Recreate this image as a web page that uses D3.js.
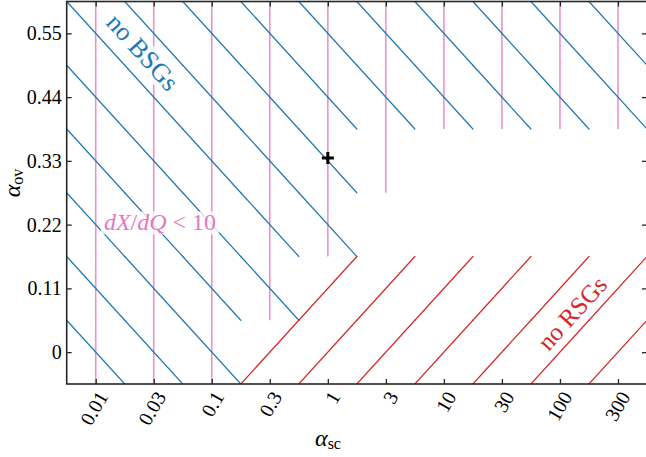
<!DOCTYPE html>
<html><head><meta charset="utf-8">
<script src="https://cdn.jsdelivr.net/npm/d3@7"></script>
<style>
body{margin:0;background:#fff;}
</style></head>
<body><svg id="c" width="646" height="457" font-family="'Liberation Serif', 'Times New Roman', Times, serif"></svg>
<script>
// alpha_sc grid (half-decade steps) and their tick labels
const alphaSc = [0.01, 0.03162, 0.1, 0.3162, 1, 3.162, 10, 31.62, 100, 316.2];
const scLabels = ["0.01","0.03","0.1","0.3","1","3","10","30","100","300"];
// alpha_ov grid and tick labels
const alphaOv = [0, 0.11, 0.22, 0.33, 0.44, 0.55];
const ovLabels = ["0","0.11","0.22","0.33","0.44","0.55"];
// region flags, one row per alpha_ov value, one entry per alpha_sc value
const noBSG = [
  [1,1,1,0,0,0,0,0,0,0],
  [1,1,1,1,0,0,0,0,0,0],
  [1,1,1,1,1,0,0,0,0,0],
  [1,1,1,1,1,0,0,0,0,0],
  [1,1,1,1,1,1,1,1,1,1],
  [1,1,1,1,1,1,1,1,1,1]
];
const noRSG = [
  [0,0,0,1,1,1,1,1,1,1],
  [0,0,0,0,1,1,1,1,1,1],
  [0,0,0,0,0,0,0,0,0,0],
  [0,0,0,0,0,0,0,0,0,0],
  [0,0,0,0,0,0,0,0,0,0],
  [0,0,0,0,0,0,0,0,0,0]
];
const dXdQlow = [
  [1,1,1,0,0,0,0,0,0,0],
  [1,1,1,1,0,0,0,0,0,0],
  [1,1,1,1,1,0,0,0,0,0],
  [1,1,1,1,1,1,0,0,0,0],
  [1,1,1,1,1,1,1,1,1,1],
  [1,1,1,1,1,1,1,1,1,1]
];
// fiducial model marker
const markSc = [1];
const markOv = [0.335];

const L = 66.7, R = 647, T = 1.5, B = 384;
const halfDec = 0.25, halfOv = 0.055;
const x = d3.scaleLog().domain([0.01*Math.pow(10,-halfDec), 316.2*Math.pow(10,halfDec)]).range([L, R]);
const y = d3.scaleLinear().domain([-halfOv, 0.55+halfOv]).range([B, T]);

const svg = d3.select("#c");
svg.append("defs").append("clipPath").attr("id","clip")
  .append("rect").attr("x",L).attr("y",T).attr("width",R-L).attr("height",B-T);
const g = svg.append("g").attr("clip-path","url(#clip)");

function cells(flags){
  const out=[];
  flags.forEach((row,j)=>row.forEach((f,i)=>{ if(f) out.push({i,j}); }));
  return out;
}
const xl = d=>x(alphaSc[d.i]*Math.pow(10,-halfDec));
const xr = d=>x(alphaSc[d.i]*Math.pow(10,halfDec));
const yb = d=>y(alphaOv[d.j]-halfOv);
const yt = d=>y(alphaOv[d.j]+halfOv);

// pink verticals
g.selectAll("line.pk").data(cells(dXdQlow)).join("line").attr("class","pk")
  .attr("x1",d=>x(alphaSc[d.i])).attr("x2",d=>x(alphaSc[d.i]))
  .attr("y1",yb).attr("y2",yt)
  .attr("stroke","#e377c2").attr("stroke-opacity",0.8).attr("stroke-width",1.6);
// blue diagonals
g.selectAll("line.bl").data(cells(noBSG)).join("line").attr("class","bl")
  .attr("x1",xl).attr("y1",yt).attr("x2",xr).attr("y2",yb)
  .attr("stroke","#1f77b4").attr("stroke-width",1.2).attr("stroke-linecap","round");
// red diagonals
g.selectAll("line.rd").data(cells(noRSG)).join("line").attr("class","rd")
  .attr("x1",xl).attr("y1",yb).attr("x2",xr).attr("y2",yt)
  .attr("stroke","#d62728").attr("stroke-width",1.2).attr("stroke-linecap","round");

// labels with boxes
function boxedText(parent, tx, ty, rot, size, build, color, boxOpacity){
  const gg = parent.append("g").attr("transform",`translate(${tx},${ty}) rotate(${rot})`);
  const rect = gg.append("rect");
  const t = gg.append("text").attr("text-anchor","middle").attr("dy","0.35em")
    .attr("font-size",size).attr("fill",color);
  build(t);
  const bb = t.node().getBBox();
  rect.attr("x",bb.x-3).attr("y",bb.y+2).attr("width",bb.width+6).attr("height",bb.height-3)
    .attr("fill","#fff").attr("fill-opacity",boxOpacity);
  return gg;
}
boxedText(svg, 143, 52, 47.8, 26, t=>t.text("no BSGs"), "#1f77b4", 0.8);
boxedText(svg, 572, 313, -47.8, 25, t=>t.text("no RSGs"), "#d62728", 0.0);
boxedText(svg, 160, 222, 0, 24, t=>{
  t.append("tspan").attr("font-style","italic").text("dX");
  t.append("tspan").text("/");
  t.append("tspan").attr("font-style","italic").text("dQ");
  t.append("tspan").text(" < 10");
}, "#e377c2", 0.8);

// marker
const mk = svg.append("g");
markSc.forEach((s,k)=>{
  const cx=x(s), cy=y(markOv[k]);
  mk.append("line").attr("x1",cx-6).attr("x2",cx+6).attr("y1",cy).attr("y2",cy);
  mk.append("line").attr("x1",cx).attr("x2",cx).attr("y1",cy-6).attr("y2",cy+6);
});
mk.selectAll("line").attr("stroke","#000").attr("stroke-width",3);

// ticks (inward, all four sides)
const tk = "#262626";
svg.append("g").attr("transform",`translate(0,${B})`).call(d3.axisBottom(x).tickValues(alphaSc).tickSize(-5).tickFormat(""));
svg.append("g").attr("transform",`translate(0,${T})`).call(d3.axisTop(x).tickValues(alphaSc).tickSize(-5).tickFormat(""));
svg.append("g").attr("transform",`translate(${L},0)`).call(d3.axisLeft(y).tickValues(alphaOv).tickSize(-5).tickFormat(""));
svg.append("g").attr("transform",`translate(${R},0)`).call(d3.axisRight(y).tickValues(alphaOv).tickSize(-5).tickFormat(""));
svg.selectAll(".domain").remove();
svg.selectAll(".tick line").attr("stroke",tk).attr("stroke-width",1.3);
svg.append("rect").attr("x",L).attr("y",T).attr("width",R-L).attr("height",B-T)
  .attr("fill","none").attr("stroke",tk).attr("stroke-width",1.6);

// tick labels
svg.selectAll("text.yl").data(alphaOv).join("text").attr("class","yl")
  .attr("x",L-5).attr("y",d=>y(d)).attr("dy","0.35em").attr("text-anchor","end")
  .attr("font-size",20).attr("fill","#000").text((d,i)=>ovLabels[i]);
svg.selectAll("text.xl").data(alphaSc).join("text").attr("class","xl")
  .attr("transform",d=>`translate(${x(d)+7},${393}) rotate(-60)`)
  .attr("dy","0.35em").attr("text-anchor","end")
  .attr("font-size",20).attr("fill","#000").text((d,i)=>scLabels[i]);

// axis titles
const xt = svg.append("text").attr("x",328).attr("y",446).attr("text-anchor","middle").attr("fill","#000");
xt.append("tspan").attr("font-style","italic").attr("font-size",24).text("α");
xt.append("tspan").attr("font-size",16).attr("dy",3).text("sc");
const yt2 = svg.append("text").attr("transform","translate(20,183) rotate(-90)").attr("text-anchor","middle").attr("fill","#000");
yt2.append("tspan").attr("font-style","italic").attr("font-size",24).text("α");
yt2.append("tspan").attr("font-size",16).attr("dy",3).text("ov");
</script></body></html>
